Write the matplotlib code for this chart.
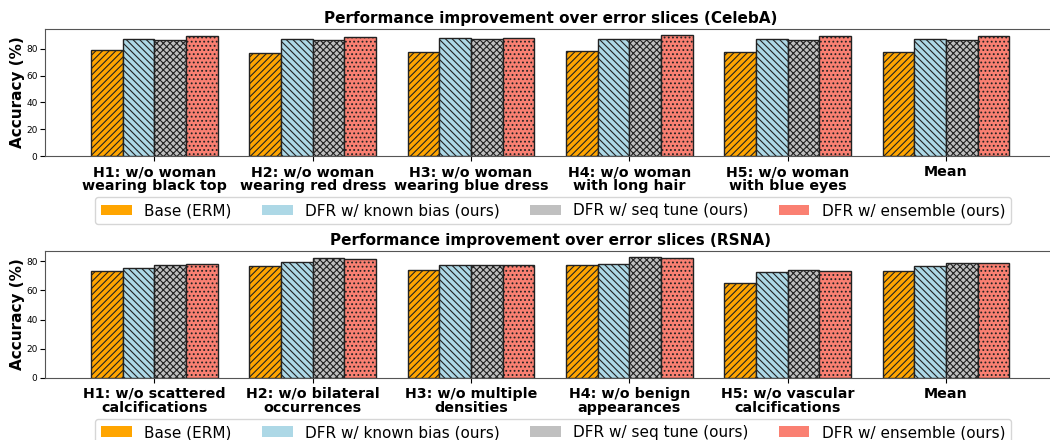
import numpy as np
import matplotlib
matplotlib.use("Agg")
import matplotlib.pyplot as plt
from matplotlib.patches import Patch

# methods / legend
methods = ['Base (ERM)', 'DFR w/ known bias (ours)', 'DFR w/ seq tune (ours)', 'DFR w/ ensemble (ours)']
colors = ['orange', 'lightblue', 'silver', 'salmon']
hatches = ['/////', '\\\\\\\\\\', 'xxxxx', '....']

# CelebA
celeba_labels = ['H1: w/o woman\nwearing black top', 'H2: w/o woman\nwearing red dress',
                 'H3: w/o woman\nwearing blue dress', 'H4: w/o woman\nwith long hair',
                 'H5: w/o woman\nwith blue eyes', 'Mean']
celeba_base = [79.3, 76.7, 77.8, 78.2, 77.3, 77.8]
celeba_known = [87.4, 87.4, 87.9, 87.4, 87.4, 87.4]
celeba_seq = [86.7, 86.7, 87.4, 86.9, 86.7, 86.7]
celeba_ens = [89.6, 88.4, 88.1, 90.1, 89.6, 89.1]

# RSNA
rsna_labels = ['H1: w/o scattered\ncalcifications', 'H2: w/o bilateral\noccurrences',
               'H3: w/o multiple\ndensities', 'H4: w/o benign\nappearances',
               'H5: w/o vascular\ncalcifications', 'Mean']
rsna_base = [72.9, 76.6, 73.6, 77.3, 65.0, 73.2]
rsna_known = [75.2, 79.7, 77.5, 77.9, 72.5, 76.6]
rsna_seq = [77.3, 82.3, 77.5, 82.9, 73.6, 78.6]
rsna_ens = [77.7, 81.4, 77.5, 81.8, 73.4, 78.4]

plt.rcParams['hatch.linewidth'] = 0.8

fig = plt.figure(figsize=(10.5, 4.4), dpi=100)
ax1 = fig.add_axes([0.043, 0.645, 0.962, 0.289])
ax2 = fig.add_axes([0.043, 0.141, 0.962, 0.289])


def draw(ax, labels, series, title):
    x = np.arange(len(labels))
    w = 0.2
    for i, vals in enumerate(series):
        ax.bar(x + (i - 1.5) * w, vals, w, color=colors[i], hatch=hatches[i],
               edgecolor='#222222', linewidth=1.0)
    ax.set_xticks(x)
    ax.set_xticklabels(labels, fontsize=10.3, fontweight='bold', linespacing=1.0)
    ax.tick_params(axis='x', pad=3)
    ax.set_yticks([0, 20, 40, 60, 80])
    ax.tick_params(axis='y', labelsize=6.5, pad=2)
    ax.set_ylabel('Accuracy (%)', fontsize=11, fontweight='bold', labelpad=1)
    ax.set_title(title, fontsize=11, fontweight='bold', pad=4)
    for s in ax.spines.values():
        s.set_color('#555555')
    handles = [Patch(facecolor=c, label=m) for c, m in zip(colors, methods)]
    ax.legend(handles=handles, loc='upper center', bbox_to_anchor=(0.503, -0.323),
              ncol=4, fontsize=11, frameon=True, columnspacing=2.0,
              handlelength=2.0, borderaxespad=0)


draw(ax1, celeba_labels, [celeba_base, celeba_known, celeba_seq, celeba_ens],
     'Performance improvement over error slices (CelebA)')
draw(ax2, rsna_labels, [rsna_base, rsna_known, rsna_seq, rsna_ens],
     'Performance improvement over error slices (RSNA)')

fig.savefig('out.png', dpi=100)
